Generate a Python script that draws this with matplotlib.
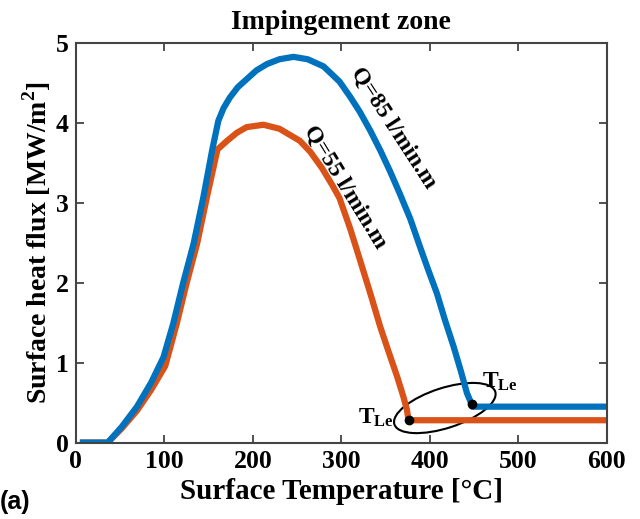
"""Impingement zone boiling curves for two flow rates."""

import numpy as np
import matplotlib
matplotlib.use('Agg')
from matplotlib import pyplot as plt
from matplotlib.patches import Ellipse
from matplotlib.transforms import ScaledTranslation

# Q = 85 l/min.m
temp_85 = [8, 36, 52, 69, 85, 99, 110, 121, 133, 144, 154, 161, 167, 174,
           183, 193, 204, 216, 230, 246, 262, 280, 298, 310, 321, 333, 344,
           355, 366, 378, 389, 398, 408, 417, 427, 435, 442, 447, 448, 600]
flux_85 = [0, 0, 0.20, 0.45, 0.75, 1.07, 1.49, 1.99, 2.49, 3.07, 3.66, 4.03,
           4.19, 4.32, 4.45, 4.55, 4.66, 4.74, 4.80, 4.83, 4.80, 4.71, 4.52,
           4.33, 4.14, 3.90, 3.66, 3.40, 3.12, 2.80, 2.45, 2.17, 1.87, 1.54,
           1.20, 0.90, 0.62, 0.49, 0.45, 0.45]

# Q = 55 l/min.m
temp_55 = [8, 36, 52, 69, 85, 101, 114, 125, 137, 148, 160, 171, 182, 193,
           212, 230, 253, 265, 278, 290, 298, 310, 321, 333, 344, 354, 363,
           370, 374, 376, 600]
flux_55 = [0, 0, 0.18, 0.40, 0.66, 0.96, 1.49, 1.99, 2.49, 3.07, 3.67, 3.78,
           3.88, 3.95, 3.98, 3.93, 3.78, 3.64, 3.44, 3.22, 3.06, 2.68, 2.29,
           1.86, 1.45, 1.12, 0.83, 0.58, 0.42, 0.28, 0.28]

# Leidenfrost points
tle_temp = [376, 448]
tle_flux = [0.28, 0.48]

blue = '#0072BD'
orange = '#D95319'

plt.rcParams['font.family'] = ['Liberation Serif', 'DejaVu Serif']
plt.rcParams['font.weight'] = 'bold'
plt.rcParams['mathtext.fontset'] = 'custom'
plt.rcParams['mathtext.rm'] = 'Liberation Serif:bold'
plt.rcParams['mathtext.bf'] = 'Liberation Serif:bold'

fig = plt.figure(figsize=(6.4, 5.19), dpi=100)
ax = fig.add_axes([0.1186, 0.1472, 0.8294, 0.7694])

ax.plot(temp_55, flux_55, color=orange, lw=4.5, solid_joinstyle='round')
ax.plot(temp_85, flux_85, color=blue, lw=4.5, solid_joinstyle='round')
ax.plot(tle_temp, tle_flux, 'o', color='black', ms=6, zorder=5)

ax.set_xlim(0, 600)
ax.set_ylim(0, 5)
ax.set_xticks([0, 100, 200, 300, 400, 500, 600])
ax.set_yticks([0, 1, 2, 3, 4, 5])
ax.tick_params(direction='in', length=6, width=1.2, top=True, right=True,
               labelsize=18.5, colors='#333333', labelcolor='black', pad=5)
for sp in ax.spines.values():
    sp.set_linewidth(1.5)
    sp.set_color('#444444')

ax.set_title('Impingement zone', fontsize=20, fontweight='bold', pad=10)
ax.set_xlabel('Surface Temperature [°C]', fontsize=21, fontweight='bold',
              labelpad=4)
ax.set_ylabel(r'Surface heat flux [MW/m$^{\mathbf{2}}$]', fontsize=20,
              fontweight='bold', labelpad=2)

# Flow rate labels along the curves
ax.text(359, 3.94, 'Q=85 l/min.m', rotation=-57, fontsize=17,
        fontweight='bold', ha='center', va='center', rotation_mode='anchor')
ax.text(304, 3.2, 'Q=55 l/min.m', rotation=-58.5, fontsize=17,
        fontweight='bold', ha='center', va='center', rotation_mode='anchor')

# Leidenfrost labels
ax.text(339, 0.31, r'$\mathbf{T_{Le}}$', fontsize=17, ha='center',
        va='center')
ax.text(479, 0.76, r'$\mathbf{T_{Le}}$', fontsize=17, ha='center',
        va='center')

# Ellipse around the Leidenfrost points
ell = Ellipse((0, 0), 1.06, 0.40, angle=18, fill=False, lw=1.5,
              edgecolor='black',
              transform=fig.dpi_scale_trans +
              ScaledTranslation(417, 0.433, ax.transData))
ax.add_patch(ell)

fig.text(0.0, 0.055, '(a)', fontsize=18, fontweight='bold',
         family=['Liberation Sans', 'DejaVu Sans'], ha='left', va='top')

fig.savefig('out.png', dpi=100)
